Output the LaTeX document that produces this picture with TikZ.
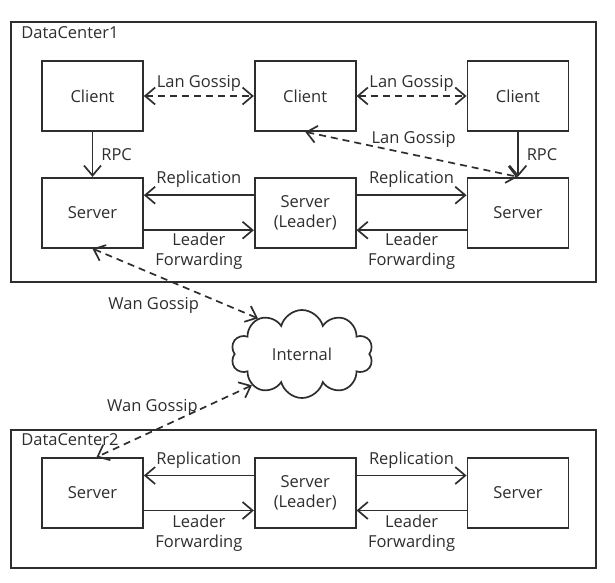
\documentclass[tikz,border=0pt]{standalone}
\usepackage{fontspec}
\setmainfont{Open Sans}
\usepackage{tikz}
\usetikzlibrary{arrows.meta,positioning,shapes.symbols}
\definecolor{ink}{HTML}{2E2E2E}
\tikzset{
  box/.style={draw=ink,line width=1.7pt,fill=white,align=center,font=\fontsize{16.5}{20}\selectfont,text=ink,minimum width=101pt,minimum height=70pt,inner sep=2pt},
  frame/.style={draw=ink,line width=1.7pt,inner sep=0pt},
  arr/.style={-{Straight Barb[length=10pt,width=17pt]},line width=1.7pt,color=ink},
  darr/.style={arr,dash pattern=on 7pt off 5pt},
  ddarr/.style={darr,{Straight Barb[length=10pt,width=17pt]}-{Straight Barb[length=10pt,width=17pt]}},
  lbl/.style={font=\fontsize{16.5}{20}\selectfont,text=ink,align=center,inner sep=2pt}}

\begin{document}
\begin{tikzpicture}[x=1pt,y=-1pt,node distance=45pt and 110pt]
\useasboundingbox (0,0) rectangle (615,582);
\node[frame,minimum width=585pt,minimum height=260pt] (dc1) at (303.5,152) {};
\node[lbl,anchor=west] (dc1name) at ([shift={(9,11)}]dc1.north west) {DataCenter1};
\node[box] (cli1) at (92.5,96) {Client};
\node[box,right=of cli1] (cli2) {Client};
\node[box,right=of cli2] (cli3) {Client};
\node[box,below=of cli1] (srv1) {Server};
\node[box,below=of cli2] (ldr1) {Server\\(Leader)};
\node[box,below=of cli3] (srv3) {Server};
\node[cloud,draw=ink,line width=1.7pt,cloud puffs=10,aspect=1.6,minimum width=142pt,minimum height=88pt,font=\fontsize{16.5}{20}\selectfont,text=ink] (net) at (302,354) {Internal};
\node[frame,minimum width=585pt,minimum height=138pt] (dc2) at (303.5,499) {};
\node[lbl,anchor=west] (dc2name) at ([shift={(9,10)}]dc2.north west) {DataCenter2};
\node[box] (srv4) at (92.5,493) {Server};
\node[box,right=of srv4] (ldr2) {Server\\(Leader)};
\node[box,right=of ldr2] (srv6) {Server};
\draw[ddarr] (cli1) -- node[lbl,above=2pt]{Lan Gossip} (cli2);
\draw[ddarr] (cli2) -- node[lbl,above=2pt]{Lan Gossip} (cli3);
\draw[arr] (cli1) -- node[lbl,right=6pt]{RPC} (srv1);
\draw[arr] (cli3) -- node[lbl,right=6pt]{RPC} (srv3);
\draw[ddarr] (cli2.south) -- node[lbl,pos=0.51,above=4pt]{Lan Gossip} (srv3.north);
\draw[arr] ([yshift=17.5pt]ldr1.west) -- node[lbl,above=5pt]{Replication} ([yshift=17.5pt]srv1.east);
\draw[arr] ([yshift=-17.5pt]srv1.east) -- node[lbl,below]{Leader\\Forwarding} ([yshift=-17.5pt]ldr1.west);
\draw[arr] ([yshift=17.5pt]ldr1.east) -- node[lbl,above=5pt]{Replication} ([yshift=17.5pt]srv3.west);
\draw[arr] ([yshift=-17.5pt]srv3.west) -- node[lbl,below]{Leader\\Forwarding} ([yshift=-17.5pt]ldr1.east);
\draw[ddarr] (srv1.south) -- node[lbl,pos=0.37,below=20pt]{Wan Gossip} (net.141);
\draw[ddarr] (net.212) -- node[lbl,pos=0.64,above=13pt]{Wan Gossip} ([xshift=4pt]srv4.north);
\draw[arr] ([yshift=17.5pt]ldr2.west) -- node[lbl,above=4pt]{Replication} ([yshift=17.5pt]srv4.east);
\draw[arr] ([yshift=-17.5pt]srv4.east) -- node[lbl,below=2pt]{Leader\\Forwarding} ([yshift=-17.5pt]ldr2.west);
\draw[arr] ([yshift=17.5pt]ldr2.east) -- node[lbl,above=4pt]{Replication} ([yshift=17.5pt]srv6.west);
\draw[arr] ([yshift=-17.5pt]srv6.west) -- node[lbl,below=2pt]{Leader\\Forwarding} ([yshift=-17.5pt]ldr2.east);
\end{tikzpicture}
\end{document}
